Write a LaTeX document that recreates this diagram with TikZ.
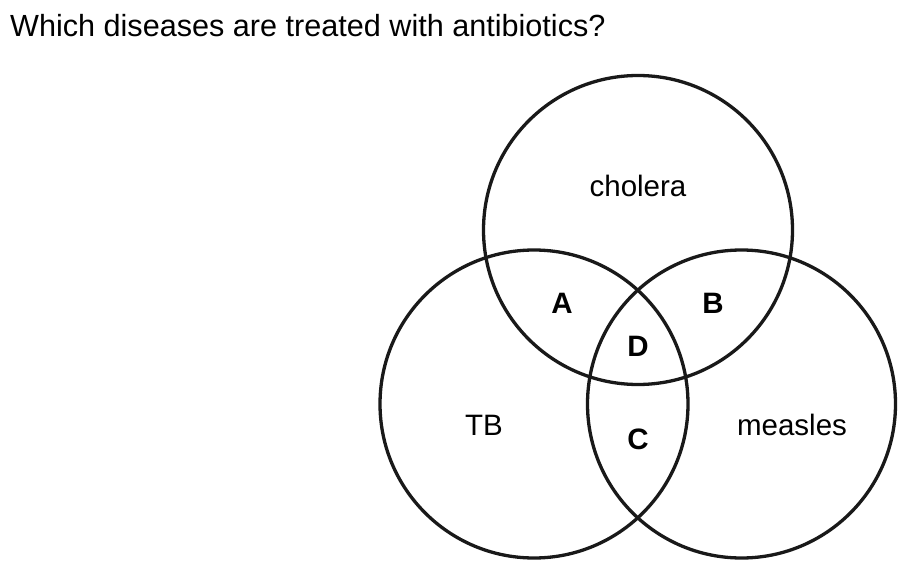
\documentclass[tikz,border=0pt]{standalone}
\usepackage{fontspec}
\setmainfont{Liberation Sans}
\begin{document}
\begin{tikzpicture}[x=1pt,y=-1pt,
  ring/.style={draw=black!90,line width=3.3pt},
  lbl/.style={font=\fontsize{29.5}{34}\selectfont,inner sep=0pt},
  reg/.style={font=\fontsize{29.5}{34}\selectfont\bfseries,inner sep=0pt}]
\useasboundingbox (0,0) rectangle (910,572);
\node[anchor=base west,inner sep=0pt,font=\fontsize{30.6}{36}\selectfont] (title) at (10,36.5) {Which diseases are treated with antibiotics?};
\draw[ring] (638,230) circle[radius=154.5];
\draw[ring] (534,404) circle[radius=154];
\draw[ring] (741.5,404) circle[radius=154];
\node[lbl] (cholera) at (638,186) {cholera};
\node[lbl] (tb) at (484,425) {TB};
\node[lbl] (measles) at (792,425) {measles};
\node[reg] (A) at (562,303) {A};
\node[reg] (B) at (713,303) {B};
\node[reg] (D) at (638,346) {D};
\node[reg] (C) at (638,439) {C};
\end{tikzpicture}
\end{document}
